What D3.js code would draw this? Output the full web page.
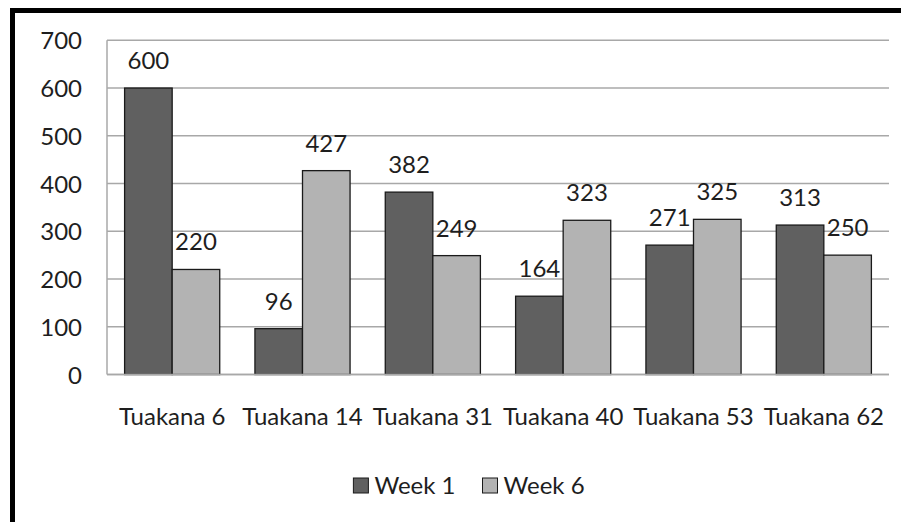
<!DOCTYPE html>
<html>
<head>
<meta charset="utf-8">
<script src="https://cdn.jsdelivr.net/npm/d3@7"></script>
<style>
  body { margin: 0; background: #fff; }
  svg text { font-family: Lato, "Noto Sans", sans-serif; fill: #1e1e1e; }
</style>
</head>
<body>
<script>
var w = 904;
var h = 522;

// data
var categories = ["Tuakana 6", "Tuakana 14", "Tuakana 31", "Tuakana 40", "Tuakana 53", "Tuakana 62"];
var seriesNames = ["Week 1", "Week 6"];
var week1 = [600, 96, 382, 164, 271, 313];
var week6 = [220, 427, 249, 323, 325, 250];
var yTicks = [0, 100, 200, 300, 400, 500, 600, 700];
var colors = ["#606060", "#b3b3b3"];

var fontSize = 24;

var svg = d3.select("body").append("svg")
    .attr("width", w)
    .attr("height", h);

// frame (only top and left edges show in the picture)
svg.append("rect").attr("x", 10).attr("y", 8).attr("width", 891).attr("height", 5).attr("fill", "#000");
svg.append("rect").attr("x", 10).attr("y", 8).attr("width", 5).attr("height", h - 8).attr("fill", "#000");

var plotLeft = 107, plotRight = 889, plotTop = 40.3, plotBottom = 374.5;

var x0 = d3.scaleBand()
    .domain(categories)
    .range([plotLeft, plotRight])
    .padding(0);

var x1 = d3.scaleBand()
    .domain(seriesNames)
    .range([0, x0.bandwidth()])
    .paddingInner(0)
    .paddingOuter(0.37);

var y = d3.scaleLinear()
    .domain([0, 700])
    .range([plotBottom, plotTop]);

// gridlines
svg.append("g").selectAll("line")
   .data(yTicks).enter()
   .append("line")
   .attr("x1", plotLeft)
   .attr("x2", plotRight)
   .attr("y1", function(d) { return y(d); })
   .attr("y2", function(d) { return y(d); })
   .attr("stroke", "#a8a8a8")
   .attr("stroke-width", 1.5);

// left axis line
svg.append("line")
   .attr("x1", plotLeft).attr("x2", plotLeft)
   .attr("y1", plotTop).attr("y2", plotBottom)
   .attr("stroke", "#a8a8a8")
   .attr("stroke-width", 1.5);

// y tick labels
var yAxis = svg.append("g")
   .attr("transform", "translate(" + (plotLeft - 25) + ",0)")
   .call(d3.axisLeft(y).tickValues(yTicks).tickSize(0).tickPadding(0));
yAxis.select(".domain").remove();
yAxis.selectAll("text")
   .attr("font-size", fontSize)
   .attr("font-family", "Lato, 'Noto Sans', sans-serif")
   .attr("fill", "#1e1e1e")
   .attr("dy", "0.36em");

var rows = categories.map(function(c, i) {
    return {cat: c, vals: [{s: seriesNames[0], v: week1[i]}, {s: seriesNames[1], v: week6[i]}]};
});

var groups = svg.append("g").selectAll("g.grp")
   .data(rows).enter()
   .append("g")
   .attr("class", "grp")
   .attr("transform", function(d) { return "translate(" + x0(d.cat) + ",0)"; });

groups.selectAll("rect")
   .data(function(d) { return d.vals; }).enter()
   .append("rect")
   .attr("x", function(d) { return x1(d.s); })
   .attr("width", x1.bandwidth())
   .attr("y", function(d) { return y(d.v); })
   .attr("height", function(d) { return y(0) - y(d.v); })
   .attr("fill", function(d, i) { return colors[i]; })
   .attr("stroke", "#1a1a1a")
   .attr("stroke-width", 1.3);

groups.selectAll("text.val")
   .data(function(d) { return d.vals; }).enter()
   .append("text")
   .attr("class", "val")
   .attr("x", function(d) { return x1(d.s) + x1.bandwidth() / 2; })
   .attr("y", function(d) { return y(d.v) - 19; })
   .attr("text-anchor", "middle")
   .attr("font-size", fontSize)
   .text(function(d) { return d.v; });

// bottom axis line
svg.append("line")
   .attr("x1", plotLeft).attr("x2", plotRight)
   .attr("y1", plotBottom).attr("y2", plotBottom)
   .attr("stroke", "#a8a8a8")
   .attr("stroke-width", 1.5);

// category labels
svg.append("g").selectAll("text")
   .data(categories).enter()
   .append("text")
   .attr("x", function(d) { return x0(d) + x0.bandwidth() / 2; })
   .attr("y", 424.5)
   .attr("text-anchor", "middle")
   .attr("font-size", fontSize)
   .text(function(d) { return d; });

// legend
var legend = svg.append("g");
var items = legend.selectAll("g")
   .data(seriesNames).enter()
   .append("g");
items.append("rect")
   .attr("width", 15).attr("height", 15)
   .attr("y", 478)
   .attr("fill", function(d, i) { return colors[i]; })
   .attr("stroke", "#1a1a1a")
   .attr("stroke-width", 1);
items.append("text")
   .attr("x", 21)
   .attr("y", 493.5)
   .attr("font-size", fontSize)
   .text(function(d) { return d; });

var lx = 0;
items.each(function() {
    var t = d3.select(this).select("text").node().getComputedTextLength();
    d3.select(this).attr("transform", "translate(" + lx + ",0)");
    lx += 21 + t + 27;
});
lx -= 27;
legend.attr("transform", "translate(" + (469 - lx / 2) + ",0)");
</script>
</body>
</html>
